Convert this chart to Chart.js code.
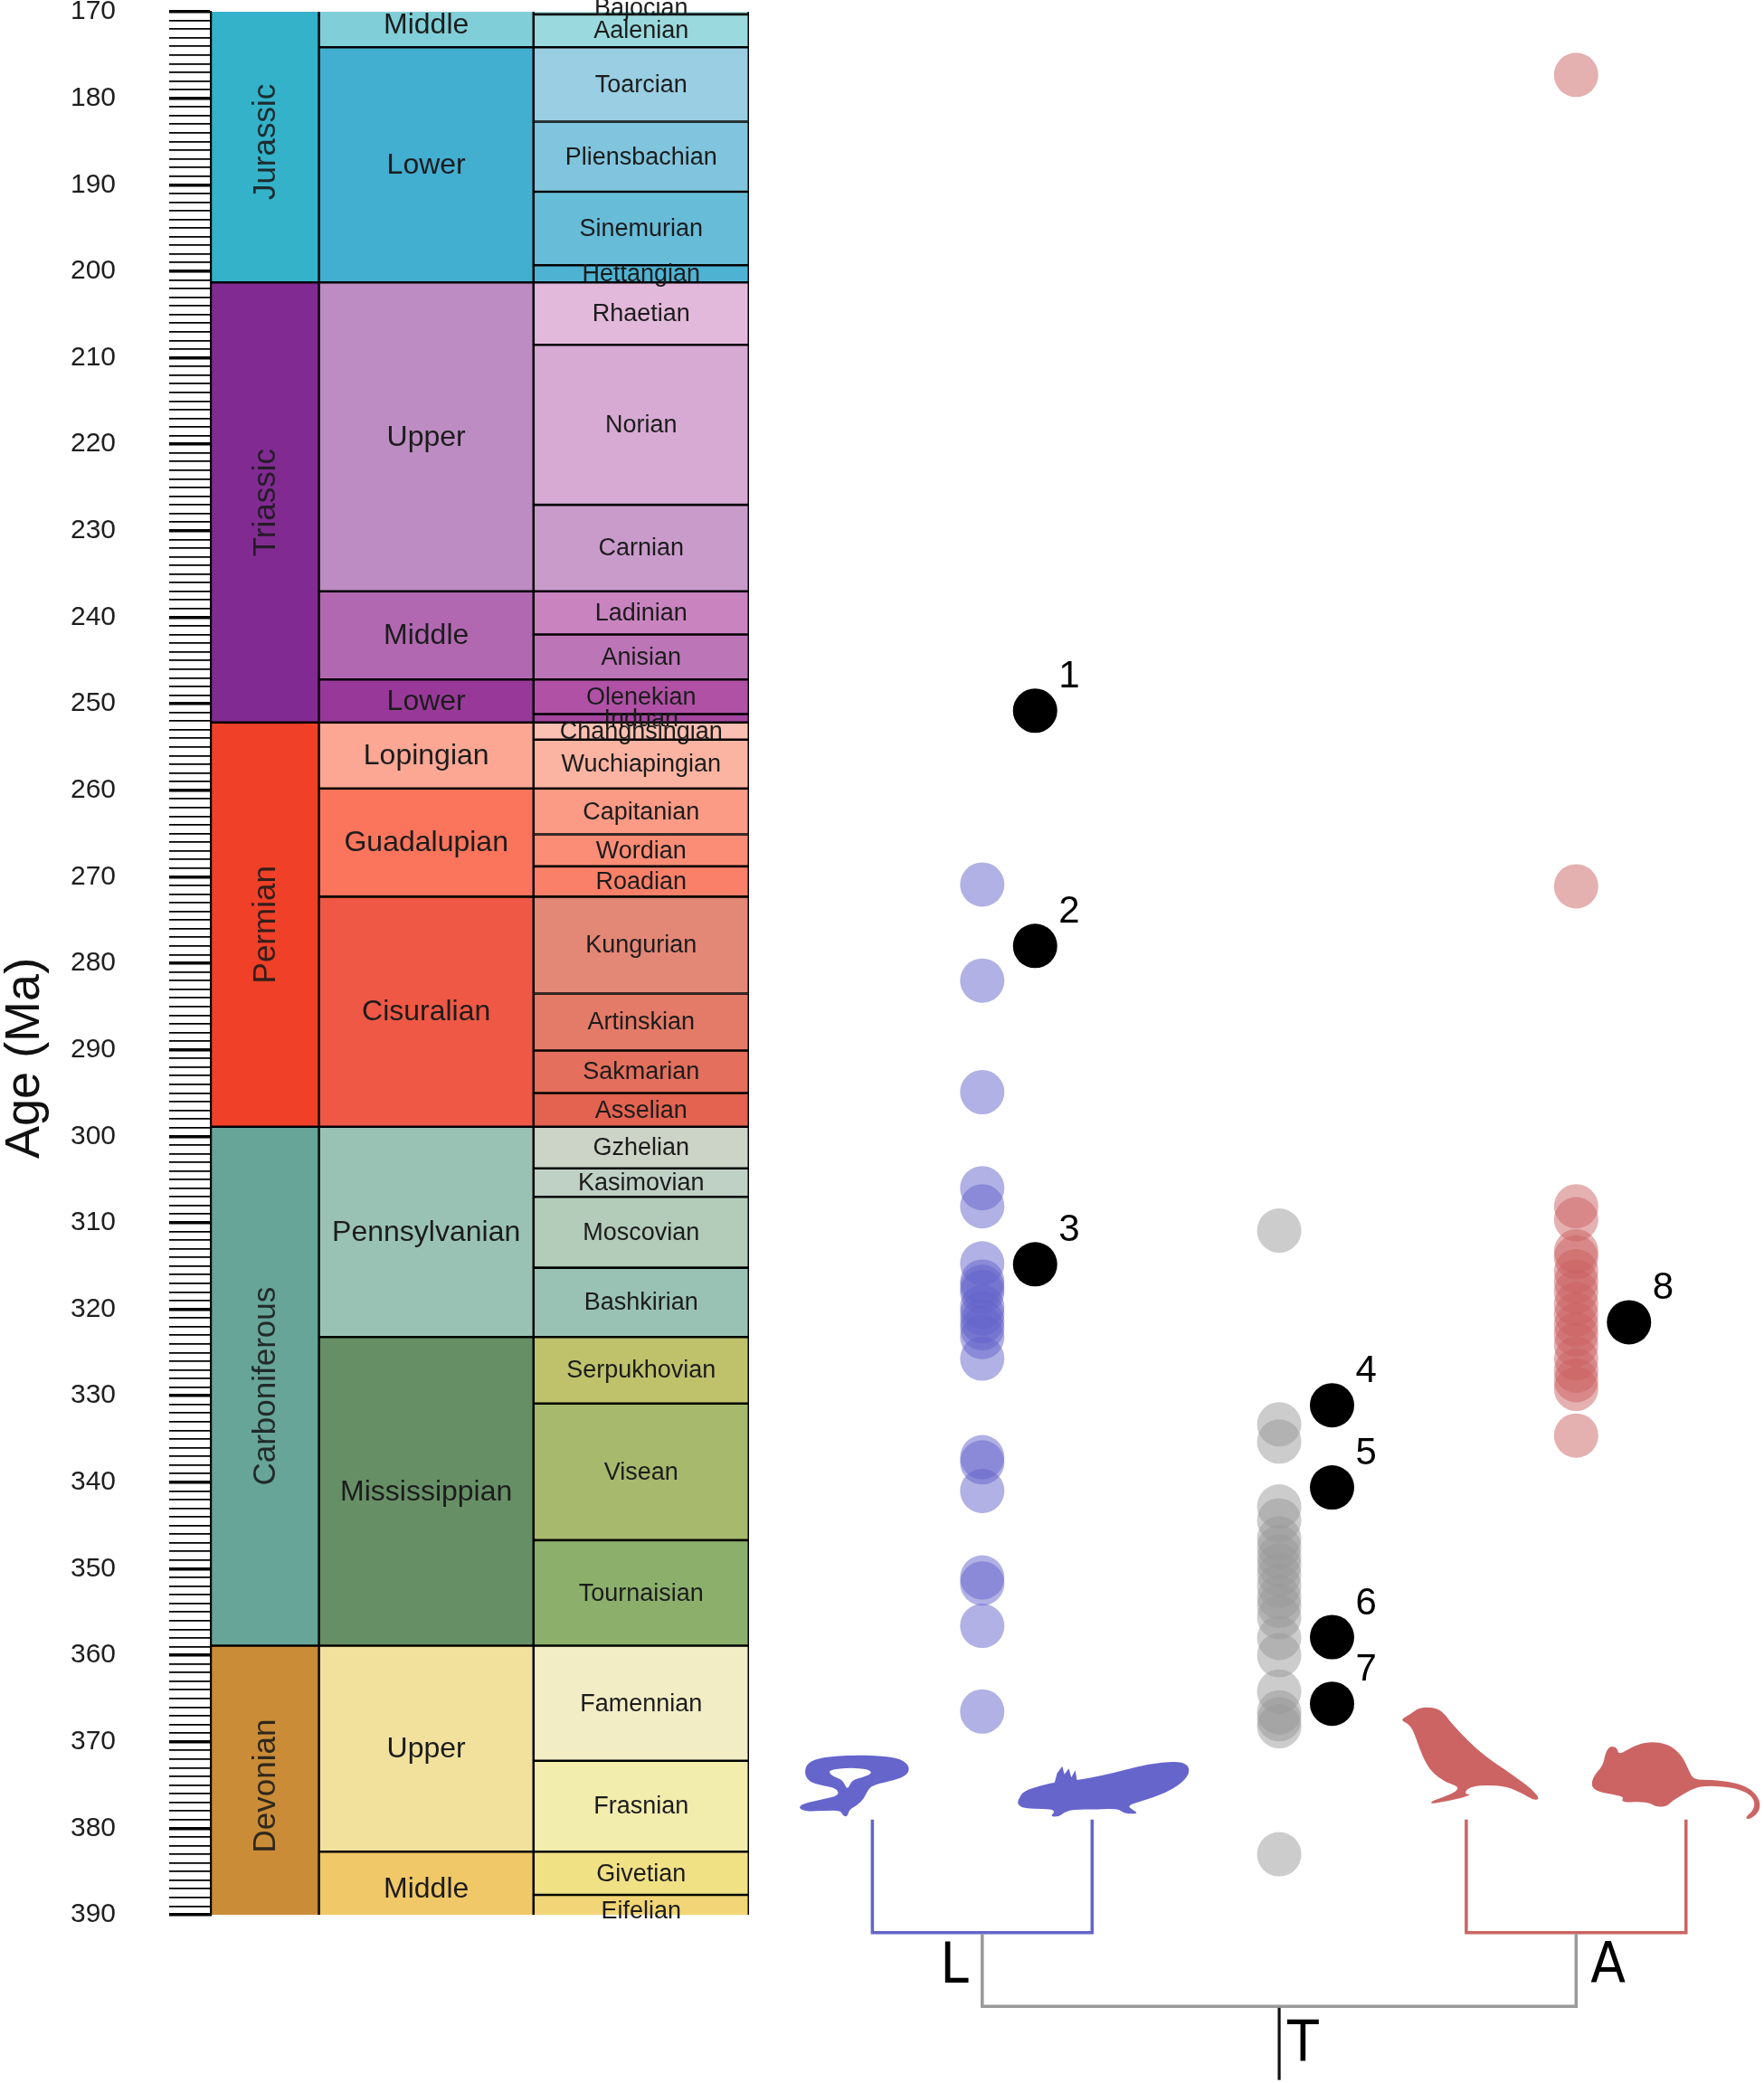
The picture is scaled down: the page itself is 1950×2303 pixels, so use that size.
<!DOCTYPE html>
<html>
<head>
<meta charset="utf-8">
<script src="https://cdn.jsdelivr.net/npm/chart.js@4.4.1/dist/chart.umd.min.js"></script>
<style>
html,body{margin:0;padding:0;background:#ffffff;}
canvas{display:block;}
</style>
</head>
<body>
<canvas id="c" width="1950" height="2303" style="width:1950px;height:2303px"></canvas>
<script>
// ---------------- DATA ----------------
const ageMin = 170, ageMax = 390;
const tickStep = 1, labelStep = 10;

const periodNames = ['Jurassic','Triassic','Permian','Carboniferous','Devonian'];
const periodTops  = [145.0, 201.3, 252.17, 298.9, 358.9];
const periodBases = [201.3, 252.17, 298.9, 358.9, 419.2];

const epochNames = ['Middle','Lower','Upper','Middle','Lower','Lopingian','Guadalupian','Cisuralian','Pennsylvanian','Mississippian','Upper','Middle'];
const epochTops  = [163.5, 174.1, 201.3, 237.0, 247.2, 252.17, 259.8, 272.3, 298.9, 323.2, 358.9, 382.7];
const epochBases = [174.1, 201.3, 237.0, 247.2, 252.17, 259.8, 272.3, 298.9, 323.2, 358.9, 382.7, 393.3];

const stageNames = ['Bajocian','Aalenian','Toarcian','Pliensbachian','Sinemurian','Hettangian','Rhaetian','Norian','Carnian','Ladinian','Anisian','Olenekian','Induan','Changhsingian','Wuchiapingian','Capitanian','Wordian','Roadian','Kungurian','Artinskian','Sakmarian','Asselian','Gzhelian','Kasimovian','Moscovian','Bashkirian','Serpukhovian','Visean','Tournaisian','Famennian','Frasnian','Givetian','Eifelian'];
const stageTops  = [168.3,170.3,174.1,182.7,190.8,199.3,201.3,208.5,227.0,237.0,242.0,247.2,251.2,252.17,254.14,259.8,265.1,268.8,272.3,283.5,290.1,295.0,298.9,303.7,307.0,315.2,323.2,330.9,346.7,358.9,372.2,382.7,387.7];
const stageBases = [170.3,174.1,182.7,190.8,199.3,201.3,208.5,227.0,237.0,242.0,247.2,251.2,252.17,254.14,259.8,265.1,268.8,272.3,283.5,290.1,295.0,298.9,303.7,307.0,315.2,323.2,330.9,346.7,358.9,372.2,382.7,387.7,393.3];

const cladeNames = ['L','T','A'];
const lissAges = [270.9,282.0,294.9,306.0,308.1,314.7,316.8,317.4,318.0,319.7,320.5,321.4,322.2,323.2,325.7,337.1,337.7,341.0,351.0,351.7,356.6,366.5];
const stemAges = [310.9,333.3,335.3,342.8,344.4,346.5,347.5,348.6,349.6,350.7,352.0,353.3,354.3,355.6,358.0,360.0,364.2,366.6,367.4,368.2,383.0];
const amnioteAges = [177.3,271.1,308.1,309.6,313.3,314.0,315.6,316.8,318.0,319.4,320.6,321.8,322.9,324.1,325.7,327.1,328.2,329.2,334.6];
const fossilClades = ['L','L','L','T','T','T','T','A'];
const fossilAges = [250.8,278.0,314.8,331.1,340.6,357.9,365.6,321.5];
const fossilLabels = ['1','2','3','4','5','6','7','8'];

// ---------------- STYLES / LAYOUT ----------------
const periodColors = ['#34B2C9','#812B92','#F04028','#67A599','#CB8C37'];
const epochColors = ['#80CFD8','#42AED0','#BD8CC3','#B168B1','#983999','#FBA794','#FB745C','#EF5845','#99C2B5','#678F66','#F1E19D','#F1C868'];
const stageColors = ['#A6DDE0','#9AD9DD','#99CEE3','#80C5DD','#67BCD8','#4EB3D3','#E3B9DB','#D6AAD3','#C99BCB','#C983BF','#BC75B7','#B051A5','#A4469F','#FCC0B2','#FCB4A2','#FB9A85','#FB8D76','#FB8069','#E38776','#E37B68','#E36F5C','#E36350','#CCD4C7','#BFD0C5','#B3CBB9','#99C2B5','#BFC26B','#A6B96C','#8CB06C','#F2EDC5','#F2EDAD','#F1E185','#F1D576'];
const cladeFill = {L:'rgba(100,100,204,0.5)', T:'rgba(153,153,153,0.5)', A:'rgba(204,98,98,0.5)'};
const cladeLine = {L:'#6565CC', A:'#CC6464', root:'#9A9A9A', T:'#111111'};

const W = 1950, H = 2303;
const L = {
  xMin: -1.598, xMax: 3.558, axisWidth: 233, padTop: 13, padBottom: 186, padRight: 24.5,
  cols: {period:[-1.598,-1.2337], epoch:[-1.2337,-0.5111], stage:[-0.5111,0.2139]},
  labelRange: [168.8, 391.3],
  fossilOffset: 0.178, leafSpread: 0.37,
  leafTop: 379.0, cladeBar: 392.06, rootBar: 400.6, rootEnd: 409.1,
  sideLabelBase: 397.8, rootLabelBase: 406.8,
  pointRadius: 24.5
};
const pxPerUnit = (W - L.axisWidth - L.padRight) / (L.xMax - L.xMin);
const colCenter = k => (L.cols[k][0] + L.cols[k][1]) / 2;
const colPx = k => (L.cols[k][1] - L.cols[k][0]) * pxPerUnit;
const cladeX = c => cladeNames.indexOf(c) + 1;
const FONT = '"Liberation Sans", Arial, Helvetica, sans-serif';
const NARROW = '"Liberation Sans Narrow", "DejaVu Sans Condensed", "Liberation Sans", sans-serif';

function geoDataset(names, tops, bases, colors, key) {
  return {
    type: 'bar',
    data: names.map((n, i) => ({x: colCenter(key), y: [tops[i], bases[i]]})),
    backgroundColor: colors,
    borderColor: '#000000',
    borderWidth: 1.6,
    borderSkipped: false,
    barThickness: colPx(key),
    grouped: false,
    clip: 0,
    order: 10
  };
}
function scatterDataset(ages, clade, color, offset, order) {
  return {
    type: 'scatter',
    data: ages.map(a => ({x: cladeX(clade) + offset, y: a})),
    backgroundColor: color,
    borderWidth: 0,
    pointRadius: L.pointRadius,
    pointHoverRadius: L.pointRadius,
    clip: false,
    order: order
  };
}

// ---------------- SILHOUETTES (decorative icons) ----------------
const caecilianOuter = [[50,100],[60,62],[110,45],[200,38],[300,40],[370,50],[400,75],[392,105],[345,122],[285,135],[262,150],[250,180],[225,205],[200,218],[193,242],[178,240],[172,222],[120,222],[55,225],[30,212],[48,198],[110,185],[165,172],[160,150],[110,138],[68,128]];
const caecilianHole = [[138,86],[200,80],[262,84],[276,98],[245,112],[208,120],[193,156],[178,120],[148,110],[132,96]];
const salamanderBody = [[770,185],[785,158],[840,140],[890,128],[960,122],[1050,105],[1120,88],[1200,68],[1290,58],[1330,68],[1338,95],[1315,128],[1255,165],[1180,190],[1130,205],[1150,220],[1168,232],[1120,232],[1100,215],[1030,218],[950,218],[920,228],[905,242],[875,242],[890,226],[880,217],[820,216],[780,212],[766,198]];
const salamanderGills = [[888,135],[898,98],[915,75],[922,102],[937,82],[945,112],[958,88],[965,128]];
const birdBody = [[45,70],[80,52],[105,32],[150,28],[185,42],[205,70],[240,110],[300,170],[360,215],[395,238],[440,270],[480,300],[508,332],[490,338],[455,318],[400,292],[330,287],[285,292],[262,305],[262,318],[282,318],[250,330],[200,340],[150,350],[145,342],[195,325],[232,308],[238,292],[195,278],[150,245],[122,200],[100,140],[85,100],[68,82]];
const mouseBody = [[690,292],[698,258],[730,222],[738,180],[752,158],[776,162],[782,188],[830,158],[885,142],[948,152],[992,190],[1015,240],[1030,270],[1090,270],[1165,278],[1222,300],[1252,340],[1247,378],[1215,402],[1200,396],[1228,372],[1234,342],[1210,312],[1150,293],[1060,290],[1022,302],[985,325],[958,340],[942,358],[905,360],[888,348],[850,342],[812,345],[790,340],[800,327],[760,318],[716,310]];
const ICONS = [
  {clade:'L', side:-1, X0:276, Y0:252, color:cladeLine.L, shapes:[caecilianOuter, caecilianHole], evenodd:true},
  {clade:'L', side: 1, X0:1014, Y0:252, color:cladeLine.L, shapes:[salamanderBody], extra:[salamanderGills]},
  {clade:'A', side:-1, X0:264, Y0:402, color:cladeLine.A, shapes:[birdBody]},
  {clade:'A', side: 1, X0:1005, Y0:402, color:cladeLine.A, shapes:[mouseBody]}
];
function smoothPath(ctx, pts, ox, oy, s, X0, Y0) {
  const P = pts.map(([X, Y]) => [ox + (X - X0) * s, oy + (Y - Y0) * s]);
  const n = P.length;
  const mid = (a, b) => [(a[0] + b[0]) / 2, (a[1] + b[1]) / 2];
  const m = mid(P[n - 1], P[0]);
  ctx.moveTo(m[0], m[1]);
  for (let i = 0; i < n; i++) {
    const p = P[i], q = P[(i + 1) % n], mm = mid(p, q);
    ctx.quadraticCurveTo(p[0], p[1], mm[0], mm[1]);
  }
  ctx.closePath();
}
function polyPath(ctx, pts, ox, oy, s, X0, Y0) {
  pts.forEach(([X, Y], i) => {
    const px = ox + (X - X0) * s, py = oy + (Y - Y0) * s;
    if (i === 0) ctx.moveTo(px, py); else ctx.lineTo(px, py);
  });
  ctx.closePath();
}

// ---------------- PLUGINS ----------------
const geoLabels = {
  id: 'geoLabels',
  afterDatasetsDraw(chart) {
    const {ctx} = chart;
    const ys = chart.scales.y;
    const lo = ys.getPixelForValue(L.labelRange[0]), hi = ys.getPixelForValue(L.labelRange[1]);
    const specs = [
      {ds:0, names:periodNames, font:'35px ' + FONT, rotate:true, color:'rgba(25,25,25,0.88)'},
      {ds:1, names:epochNames, font:'32px ' + FONT, rotate:false, color:'#1c1c1c'},
      {ds:2, names:stageNames, font:'27px ' + FONT, rotate:false, color:'#1c1c1c'}
    ];
    ctx.save();
    ctx.textAlign = 'center';
    ctx.textBaseline = 'middle';
    specs.forEach(s => {
      const meta = chart.getDatasetMeta(s.ds);
      meta.data.forEach((el, i) => {
        const p = el.getProps(['x', 'y', 'base'], true);
        const top = Math.max(Math.min(p.y, p.base), lo);
        const bot = Math.min(Math.max(p.y, p.base), hi);
        if (bot <= top) return;
        const cy = (top + bot) / 2;
        ctx.fillStyle = s.color;
        ctx.font = s.font;
        if (s.rotate) {
          ctx.save();
          ctx.translate(p.x + 2, cy);
          ctx.rotate(-Math.PI / 2);
          ctx.fillText(s.names[i], 0, 0);
          ctx.restore();
        } else {
          ctx.fillText(s.names[i], p.x, cy + 1);
        }
      });
    });
    const fm = chart.getDatasetMeta(chart.data.datasets.length - 1);
    ctx.font = '42px ' + FONT;
    ctx.fillStyle = '#000';
    ctx.textAlign = 'left';
    fm.data.forEach((el, i) => {
      ctx.fillText(fossilLabels[i], el.x + 26, el.y - 37);
    });
    ctx.save();
    ctx.font = '54px ' + FONT;
    ctx.fillStyle = '#111';
    ctx.textAlign = 'center';
    ctx.translate(28, chart.height * 0.508);
    ctx.rotate(-Math.PI / 2);
    ctx.fillText('Age (Ma)', 0, 0);
    ctx.restore();
    ctx.restore();
  }
};

const treePlugin = {
  id: 'tree',
  afterDraw(chart) {
    const {ctx} = chart;
    const xs = chart.scales.x, ys = chart.scales.y;
    const X = v => xs.getPixelForValue(v), Y = v => ys.getPixelForValue(v);
    ctx.save();
    ctx.lineCap = 'butt';
    ctx.lineJoin = 'miter';
    ['L', 'A'].forEach(c => {
      const cx = cladeX(c);
      ctx.strokeStyle = cladeLine[c];
      ctx.lineWidth = 3.5;
      ctx.beginPath();
      ctx.moveTo(X(cx - L.leafSpread), Y(L.leafTop));
      ctx.lineTo(X(cx - L.leafSpread), Y(L.cladeBar));
      ctx.lineTo(X(cx + L.leafSpread), Y(L.cladeBar));
      ctx.lineTo(X(cx + L.leafSpread), Y(L.leafTop));
      ctx.stroke();
    });
    ctx.strokeStyle = cladeLine.root;
    ctx.lineWidth = 3.5;
    ctx.beginPath();
    ctx.moveTo(X(cladeX('L')), Y(L.cladeBar) + 1.5);
    ctx.lineTo(X(cladeX('L')), Y(L.rootBar));
    ctx.lineTo(X(cladeX('A')), Y(L.rootBar));
    ctx.lineTo(X(cladeX('A')), Y(L.cladeBar) + 1.5);
    ctx.stroke();
    ctx.strokeStyle = cladeLine.T;
    ctx.lineWidth = 3.2;
    ctx.beginPath();
    ctx.moveTo(X(cladeX('T')), Y(L.rootBar) + 1.5);
    ctx.lineTo(X(cladeX('T')), Y(L.rootEnd));
    ctx.stroke();
    ctx.fillStyle = '#000';
    ctx.font = '63px ' + NARROW;
    ctx.textBaseline = 'alphabetic';
    ctx.textAlign = 'right';
    ctx.fillText('L', X(cladeX('L')) - 15, Y(L.sideLabelBase));
    ctx.textAlign = 'left';
    ctx.fillText('A', X(cladeX('A')) + 16, Y(L.sideLabelBase));
    ctx.fillText('T', X(cladeX('T')) + 9, Y(L.rootLabelBase));
    ICONS.forEach(ic => {
      const ax = X(cladeX(ic.clade) + ic.side * L.leafSpread);
      const ay = Y(L.leafTop);
      ctx.fillStyle = ic.color;
      ctx.beginPath();
      ic.shapes.forEach(sh => smoothPath(ctx, sh, ax, ay, 1 / 3, ic.X0, ic.Y0));
      ctx.fill(ic.evenodd ? 'evenodd' : 'nonzero');
      if (ic.extra) {
        ic.extra.forEach(sh => {
          ctx.beginPath();
          polyPath(ctx, sh, ax, ay, 1 / 3, ic.X0, ic.Y0);
          ctx.fill();
        });
      }
    });
    ctx.restore();
  }
};

// ---------------- CHART ----------------
const datasets = [
  geoDataset(periodNames, periodTops, periodBases, periodColors, 'period'),
  geoDataset(epochNames, epochTops, epochBases, epochColors, 'epoch'),
  geoDataset(stageNames, stageTops, stageBases, stageColors, 'stage'),
  scatterDataset(lissAges, 'L', cladeFill.L, 0, 3),
  scatterDataset(stemAges, 'T', cladeFill.T, 0, 3),
  scatterDataset(amnioteAges, 'A', cladeFill.A, 0, 3),
  {
    type: 'scatter',
    data: fossilAges.map((a, i) => ({x: cladeX(fossilClades[i]) + L.fossilOffset, y: a})),
    backgroundColor: '#000000',
    borderWidth: 0,
    pointRadius: L.pointRadius,
    pointHoverRadius: L.pointRadius,
    clip: false,
    order: 0
  }
];

new Chart(document.getElementById('c'), {
  type: 'bar',
  data: {datasets},
  options: {
    responsive: false,
    animation: false,
    devicePixelRatio: 1,
    events: [],
    layout: {autoPadding: false, padding: {top: L.padTop, bottom: L.padBottom, left: 0, right: L.padRight}},
    plugins: {legend: {display: false}, tooltip: {enabled: false}, title: {display: false}},
    scales: {
      x: {type: 'linear', min: L.xMin, max: L.xMax, display: false, offset: false, grid: {offset: false}},
      y: {
        type: 'linear', min: ageMin, max: ageMax, reverse: true,
        afterFit: s => { s.width = L.axisWidth; s.paddingTop = 0; s.paddingBottom = 0; },
        border: {display: true, color: '#000', width: 2},
        grid: {
          drawOnChartArea: false, drawTicks: true, tickLength: 46,
          tickColor: '#000',
          tickWidth: c => (c.tick && c.tick.value % labelStep === 0) ? 3.4 : 1.7,
          lineWidth: c => (c.tick && c.tick.value % labelStep === 0) ? 3.4 : 1.7,
          color: '#000'
        },
        ticks: {
          stepSize: tickStep, autoSkip: false, padding: 59,
          color: '#1e1e1e', font: {family: '"Liberation Sans", Arial, sans-serif', size: 30},
          callback: v => (v % labelStep === 0 ? String(v) : '')
        }
      }
    }
  },
  plugins: [geoLabels, treePlugin]
});
</script>
</body>
</html>
